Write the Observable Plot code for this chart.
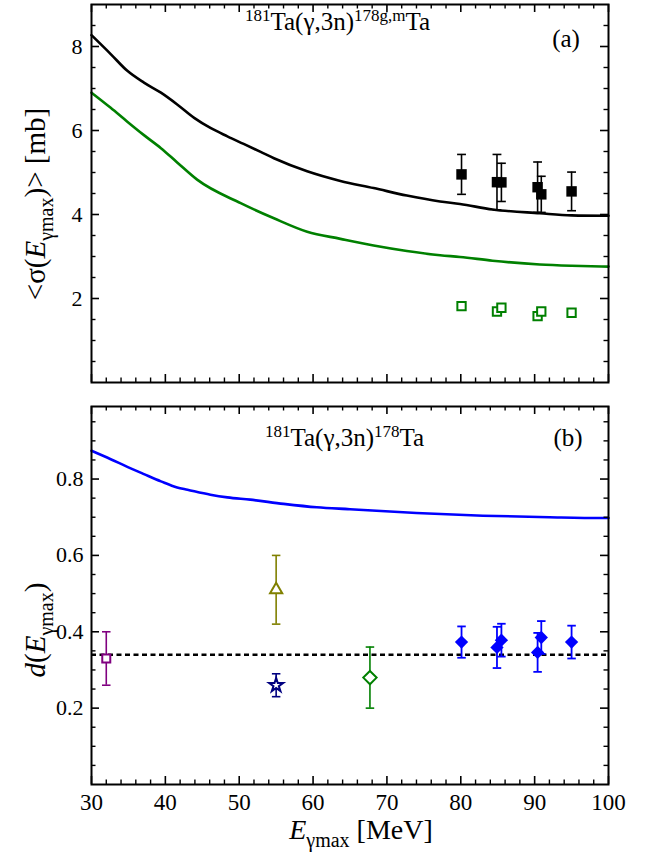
<!DOCTYPE html>
<html><head><meta charset="utf-8">
<script src="https://cdn.jsdelivr.net/npm/d3@7"></script>
<script src="https://cdn.jsdelivr.net/npm/@observablehq/plot@0.6"></script>
<style>
body{margin:0;background:#fff;}
#chart{width:649px;}
#chart svg{display:block;}
</style></head><body><div id="chart"></div>
<script>
// ---------- data ----------
const xMajor = [30, 40, 50, 60, 70, 80, 90, 100];
const xMinor = [32,34,36,38,42,44,46,48,52,54,56,58,62,64,66,68,72,74,76,78,82,84,86,88,92,94,96,98];
const yMajorA = [2, 4, 6, 8];
const yMinorA = [0.5,1,1.5,2.5,3,3.5,4.5,5,5.5,6.5,7,7.5,8.5];
const yMajorB = [0.2, 0.4, 0.6, 0.8];
const yMinorB = [0.05,0.1,0.15,0.25,0.3,0.35,0.45,0.5,0.55,0.65,0.7,0.75,0.85,0.9,0.95];

// theory curves, panel (a)
const eBlack = [30, 32.6, 34.85, 37.1, 39.4, 41.6, 43.9, 46.1, 48.4, 50.6, 52.9, 54.7, 59.2, 63.7, 68.2, 72.7, 77.2, 79.9, 84.3, 90.7, 95, 100];
const sigmaGMTheory = [8.27, 7.82, 7.42, 7.14, 6.90, 6.62, 6.30, 6.06, 5.86, 5.68, 5.49, 5.34, 5.03, 4.80, 4.63, 4.45, 4.31, 4.25, 4.12, 4.03, 3.98, 3.97];
const eGreen = [30, 32.6, 34.85, 37.1, 39.4, 41.6, 44.3, 50.2, 54.7, 59.2, 63.7, 68.2, 72.7, 77.2, 79.9, 84.3, 90.7, 95, 100];
const sigmaGTheory = [6.90, 6.54, 6.21, 5.89, 5.58, 5.24, 4.83, 4.27, 3.91, 3.59, 3.42, 3.26, 3.13, 3.03, 2.99, 2.90, 2.81, 2.78, 2.76];

// experiment, panel (a)
const expE = [80.1, 84.9, 85.5, 90.4, 90.9, 95.0];
const sigmaGMExp = [4.955, 4.77, 4.765, 4.65, 4.48, 4.55];
const sigmaGMErr = [0.475, 0.66, 0.455, 0.60, 0.43, 0.46];
const sigmaGExp = [1.82, 1.69, 1.78, 1.58, 1.69, 1.66];

// theory curve, panel (b)
const eBlue = [30, 32.6, 34.85, 37.1, 39.4, 41.6, 43, 46.1, 48.4, 51.5, 56, 60.5, 65, 74, 83, 92, 99, 100];
const dTheory = [0.874, 0.852, 0.832, 0.813, 0.794, 0.778, 0.772, 0.759, 0.752, 0.746, 0.735, 0.726, 0.721, 0.711, 0.704, 0.700, 0.698, 0.698];

// experiment, panel (b)
const dExp = [0.373, 0.359, 0.378, 0.346, 0.385, 0.373];
const dErr = [0.041, 0.054, 0.043, 0.051, 0.043, 0.043];
const dAverage = 0.34;

const otherE = [32, 55, 55, 67.7];
const otherD = [0.33, 0.51, 0.26, 0.28];
const otherErr = [0.07, 0.09, 0.03, 0.08];
const otherSymbol = ["square2", "triangle2", "star", "diamond2"];
const otherColor = ["#800080", "#808000", "#000080", "#008000"];
const otherR = [5.1, 5.8, 4.4, 6.0];

// ---------- layout ----------
const W = 649, ML = 91, MR = 41, PH = 378;
const PW = W - ML - MR;
const FONT = "Liberation Serif";

const cap = {draw(ctx, size) { const w = Math.sqrt(size); ctx.moveTo(-w / 2, 0); ctx.lineTo(w / 2, 0); }};

function frameTicks(yMaj, yMin) {
  return [
    Plot.tickX(xMajor, {x: d => d, insetTop: PH - 8, strokeWidth: 1.6}),
    Plot.tickX(xMajor, {x: d => d, insetBottom: PH - 8, strokeWidth: 1.6}),
    Plot.tickX(xMinor, {x: d => d, insetTop: PH - 4.5, strokeWidth: 1.4}),
    Plot.tickX(xMinor, {x: d => d, insetBottom: PH - 4.5, strokeWidth: 1.4}),
    Plot.tickY(yMaj, {y: d => d, insetRight: PW - 8, strokeWidth: 1.6}),
    Plot.tickY(yMaj, {y: d => d, insetLeft: PW - 8, strokeWidth: 1.6}),
    Plot.tickY(yMin, {y: d => d, insetRight: PW - 4.5, strokeWidth: 1.4}),
    Plot.tickY(yMin, {y: d => d, insetLeft: PW - 4.5, strokeWidth: 1.4}),
    Plot.frame({strokeWidth: 2})
  ];
}

const zip = (xs, ys) => xs.map((x, i) => ({x, y: ys[i]}));

// ---------- panel (a) ----------
const expA = expE.map((e, i) => ({e, v: sigmaGMExp[i], lo: sigmaGMExp[i] - sigmaGMErr[i], hi: sigmaGMExp[i] + sigmaGMErr[i], g: sigmaGExp[i]}));

const plotA = Plot.plot({
  width: W, height: 394,
  marginLeft: ML, marginRight: MR, marginTop: 4, marginBottom: 12,
  x: {domain: [30, 100], axis: null},
  y: {domain: [0, 9], axis: null},
  style: {fontFamily: FONT, fontSize: "22px", color: "black", background: "white", overflow: "visible"},
  marks: [
    Plot.line(zip(eBlack, sigmaGMTheory), {x: "x", y: "y", stroke: "black", strokeWidth: 2.6, curve: "monotone-x"}),
    Plot.line(zip(eGreen, sigmaGTheory), {x: "x", y: "y", stroke: "#008000", strokeWidth: 2.6, curve: "monotone-x"}),
    Plot.ruleX(expA, {x: "e", y1: "lo", y2: "hi", stroke: "black", strokeWidth: 1.6}),
    Plot.dot(expA, {x: "e", y: "lo", symbol: cap, r: 5, stroke: "black", fill: "none", strokeWidth: 1.6}),
    Plot.dot(expA, {x: "e", y: "hi", symbol: cap, r: 5, stroke: "black", fill: "none", strokeWidth: 1.6}),
    Plot.dot(expA, {x: "e", y: "v", symbol: "square", r: 5.9, fill: "black"}),
    Plot.dot(expA, {x: "e", y: "g", symbol: "square2", r: 5.3, stroke: "#008000", fill: "white", strokeWidth: 2}),
    ...frameTicks(yMajorA, yMinorA),
    Plot.text(yMajorA, {y: d => d, text: d => String(d), frameAnchor: "left", textAnchor: "end", dx: -9, fontSize: 22})
  ]
});

// ---------- panel (b) ----------
const expB = expE.map((e, i) => ({e, v: dExp[i], lo: dExp[i] - dErr[i], hi: dExp[i] + dErr[i]}));
const otherB = otherE.map((e, i) => ({e, v: otherD[i], lo: otherD[i] - otherErr[i], hi: otherD[i] + otherErr[i], s: otherSymbol[i], c: otherColor[i], r: otherR[i]}));

const plotB = Plot.plot({
  width: W, height: 467,
  marginLeft: ML, marginRight: MR, marginTop: 12, marginBottom: 77,
  x: {domain: [30, 100], axis: null},
  y: {domain: [0, 0.99], axis: null},
  r: {type: "identity"},
  symbol: {type: "identity"},
  style: {fontFamily: FONT, fontSize: "22px", color: "black", background: "white", overflow: "visible"},
  marks: [
    Plot.line(zip(eBlue, dTheory), {x: "x", y: "y", stroke: "#0000ff", strokeWidth: 2.6, curve: "monotone-x"}),
    Plot.ruleY([dAverage], {y: d => d, stroke: "black", strokeWidth: 2.4, strokeDasharray: "5,3.5"}),
    Plot.ruleX(expB, {x: "e", y1: "lo", y2: "hi", stroke: "#0000ff", strokeWidth: 1.8}),
    Plot.dot(expB, {x: "e", y: "lo", symbol: cap, r: 4.8, stroke: "#0000ff", fill: "none", strokeWidth: 1.8}),
    Plot.dot(expB, {x: "e", y: "hi", symbol: cap, r: 4.8, stroke: "#0000ff", fill: "none", strokeWidth: 1.8}),
    Plot.dot(expB, {x: "e", y: "v", symbol: "diamond2", r: 6.0, fill: "#0000ff"}),
    Plot.ruleX(otherB, {x: "e", y1: "lo", y2: "hi", stroke: "c", strokeWidth: 1.6}),
    Plot.dot(otherB, {x: "e", y: "lo", symbol: cap, r: 4.8, stroke: "c", fill: "none", strokeWidth: 1.6}),
    Plot.dot(otherB, {x: "e", y: "hi", symbol: cap, r: 4.8, stroke: "c", fill: "none", strokeWidth: 1.6}),
    Plot.dot(otherB, {x: "e", y: "v", symbol: "s", r: "r", stroke: "c", fill: "white", strokeWidth: 2}),
    ...frameTicks(yMajorB, yMinorB),
    Plot.text(yMajorB, {y: d => d, text: d => d.toFixed(1), frameAnchor: "left", textAnchor: "end", dx: -8, fontSize: 22}),
    Plot.text(xMajor, {x: d => d, text: d => String(d), frameAnchor: "bottom", lineAnchor: "top", dy: 9, fontSize: 23})
  ]
});

const chart = document.getElementById("chart");
chart.appendChild(plotA);
chart.appendChild(plotB);

// ---------- rich text labels (super/subscripts) ----------
function rich(svg, x, y, parts, opts = {}) {
  const t = d3.select(svg).append("text")
    .attr("x", x).attr("y", y)
    .attr("font-family", FONT)
    .attr("font-size", opts.size || 25)
    .attr("fill", "black")
    .attr("text-anchor", opts.anchor || "start");
  if (opts.rotate) t.attr("transform", `rotate(${opts.rotate},${x},${y})`);
  for (const p of parts) {
    const s = t.append("tspan").text(p.t);
    if (p.size) s.attr("font-size", p.size);
    if (p.dy) s.attr("dy", p.dy);
    if (p.italic) s.attr("font-style", "italic");
  }
  return t;
}

rich(plotA, 245, 30, [
  {t: "181", size: 17, dy: -9}, {t: "Ta(γ,3n)", dy: 9},
  {t: "178g,m", size: 17, dy: -9}, {t: "Ta", dy: 9}
]);
rich(plotA, 566, 47, [{t: "(a)"}], {anchor: "middle"});

rich(plotB, 265, 52, [
  {t: "181", size: 17, dy: -9}, {t: "Ta(γ,3n)", dy: 9},
  {t: "178", size: 17, dy: -9}, {t: "Ta", dy: 9}
]);
rich(plotB, 568, 52, [{t: "(b)"}], {anchor: "middle"});

// axis titles
rich(plotA, 45, 204, [
  {t: "<σ("}, {t: "E", italic: true}, {t: "γmax", size: 20, dy: 8}, {t: ")> [mb]", dy: -8}
], {anchor: "middle", rotate: -90, size: 29});
rich(plotB, 45, 236, [
  {t: "d", italic: true}, {t: "("}, {t: "E", italic: true}, {t: "γmax", size: 20, dy: 8}, {t: ")", dy: -8}
], {anchor: "middle", rotate: -90, size: 29});
rich(plotB, 361, 445, [
  {t: "E", italic: true}, {t: "γmax", size: 20, dy: 8}, {t: " [MeV]", dy: -8}
], {anchor: "middle", size: 28});
</script>
</body></html>
